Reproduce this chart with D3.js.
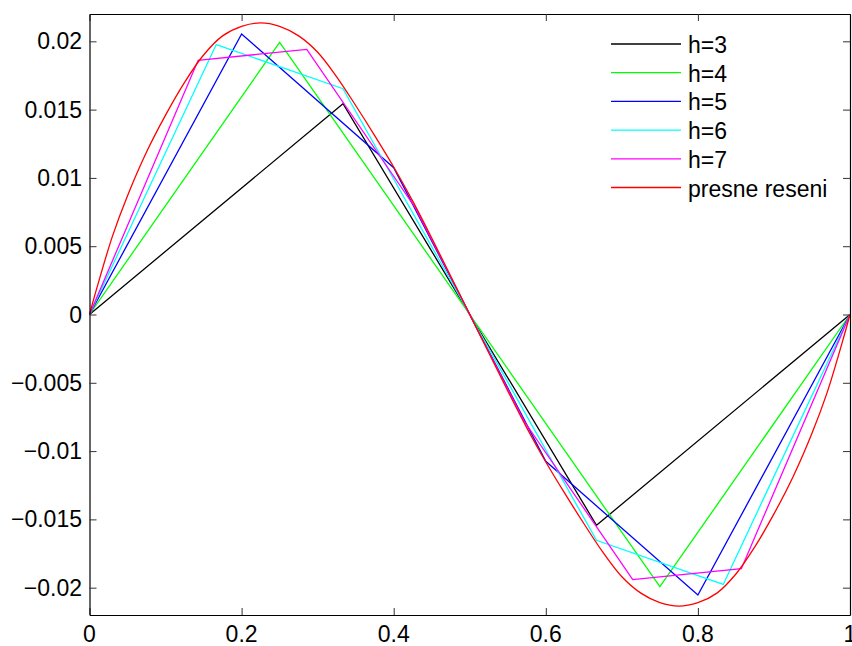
<!DOCTYPE html>
<html>
<head>
<meta charset="utf-8">
<script src="https://cdnjs.cloudflare.com/ajax/libs/d3/7.8.5/d3.min.js"></script>
<style>
    body { margin: 0; background: #fff; }
    text { font-family: "Liberation Sans", Arial, Helvetica, sans-serif; fill: #000; }
</style>
</head>
<body>
<div id="chart"></div>
<script>

//Approximate solutions for the different numbers of intervals.
var h3x = [0, 1/3, 2/3, 1],
    h3y = [0, 0.01543, -0.01543, 0];

var h4x = [0, 0.25, 0.5, 0.75, 1],
    h4y = [0, 0.01993, 0, -0.01993, 0];

var h5x = [0, 0.2, 0.4, 0.6, 0.8, 1],
    h5y = [0, 0.02054, 0.01075, -0.01075, -0.02054, 0];

var h6x = [0, 1/6, 1/3, 0.5, 2/3, 5/6, 1],
    h6y = [0, 0.01976, 0.01653, 0, -0.01653, -0.01976, 0];

var h7x = [0, 1/7, 2/7, 3/7, 4/7, 5/7, 6/7, 1],
    h7y = [0, 0.01861, 0.01941, 0.0078, -0.0078, -0.01941, -0.01861, 0];

//Exact solution.
var exactX = [0, 0.01, 0.03, 0.05, 0.075, 0.1, 0.125, 0.15, 0.175, 0.2, 0.225, 0.25, 0.275, 0.3,
    0.325, 0.35, 0.375, 0.4, 0.425, 0.45, 0.475, 0.5,
    0.525, 0.55, 0.575, 0.6, 0.625, 0.65, 0.675, 0.7, 0.725, 0.75, 0.775, 0.8, 0.825,
    0.85, 0.875, 0.9, 0.925, 0.95, 0.97, 0.99, 1];
var exactY = [0, 0.0020, 0.0057, 0.0087, 0.0119, 0.0146, 0.0170, 0.0190, 0.0204, 0.0211, 0.02135, 0.0211, 0.0204, 0.0192,
    0.0174, 0.0153, 0.0131, 0.0108, 0.0083, 0.0056, 0.0028, 0,
    -0.0028, -0.0056, -0.0083, -0.0108, -0.0131, -0.0153, -0.0174, -0.0192, -0.0204, -0.0211, -0.02135, -0.0211, -0.0204,
    -0.0190, -0.0170, -0.0146, -0.0119, -0.0087, -0.0057, -0.0020, 0];

var legendLabels = ["h=3", "h=4", "h=5", "h=6", "h=7", "presne reseni"];
var colors = ["#000000", "#00ff00", "#0000ff", "#00ffff", "#ff00ff", "#ff0000"];

var xTicks = [0, 0.2, 0.4, 0.6, 0.8, 1];
var yTicks = [-0.02, -0.015, -0.01, -0.005, 0, 0.005, 0.01, 0.015, 0.02];

var seriesX = [h3x, h4x, h5x, h6x, h7x];
var seriesY = [h3y, h4y, h5y, h6y, h7y];

//Size of the picture and of the plot box.
var width = 852, height = 646;
var boxLeft = 89.5, boxRight = 850, boxTop = 14, boxBottom = 615;
var fontSize = 23;

var svg = d3.select("#chart").append("svg")
    .attr("width", width)
    .attr("height", height);

var x = d3.scaleLinear().domain([0, 1]).range([boxLeft, boxRight]);
var y = d3.scaleLinear().domain([-0.022, 0.022]).range([boxBottom, boxTop]);

//Formats tick labels the way matlab does, with a real minus sign.
function fmt(v) {
    var s = String(+v.toFixed(4));
    return s.replace("-", "\u2212");
}

function pairs(xs, ys) {
    return xs.map(function(v, j) { return [v, ys[j]]; });
}

//Lines of the approximations, straight pieces between nodes.
var line = d3.line()
    .x(function(d) { return x(d[0]); })
    .y(function(d) { return y(d[1]); });

//Exact solution is smooth.
var smooth = d3.line()
    .x(function(d) { return x(d[0]); })
    .y(function(d) { return y(d[1]); })
    .curve(d3.curveCatmullRom);

var lines = svg.append("g").attr("fill", "none").attr("stroke-width", 1.3);
seriesX.forEach(function(xs, i) {
    lines.append("path")
        .attr("d", line(pairs(xs, seriesY[i])))
        .attr("stroke", colors[i]);
});
lines.append("path")
    .attr("d", smooth(pairs(exactX, exactY)))
    .attr("stroke", colors[5]);

//Axes with ticks pointing inside, on all four sides.
var tickLen = 7;
var axes = svg.append("g");

axes.append("g").attr("transform", "translate(0," + boxBottom + ")")
    .call(d3.axisBottom(x).tickValues(xTicks).tickSize(-tickLen).tickSizeOuter(0).tickFormat(""));
axes.append("g").attr("transform", "translate(0," + boxTop + ")")
    .call(d3.axisTop(x).tickValues(xTicks).tickSize(-tickLen).tickSizeOuter(0).tickFormat(""));
axes.append("g").attr("transform", "translate(" + boxLeft + ",0)")
    .call(d3.axisLeft(y).tickValues(yTicks).tickSize(-tickLen).tickSizeOuter(0).tickFormat(""));
axes.append("g").attr("transform", "translate(" + boxRight + ",0)")
    .call(d3.axisRight(y).tickValues(yTicks).tickSize(-tickLen).tickSizeOuter(0).tickFormat(""));

axes.selectAll("path.domain").attr("stroke", "#000").attr("stroke-width", 1.2);
axes.selectAll(".tick line").attr("stroke", "#333");

//Tick labels.
svg.append("g").selectAll("text").data(xTicks).enter().append("text")
    .attr("x", function(d) { return x(d); })
    .attr("y", 642)
    .attr("text-anchor", "middle")
    .attr("font-size", fontSize)
    .text(fmt);

svg.append("g").selectAll("text").data(yTicks).enter().append("text")
    .attr("x", 82)
    .attr("y", function(d) { return y(d) + 8; })
    .attr("text-anchor", "end")
    .attr("font-size", fontSize)
    .text(fmt);

//Legend without a box.
var legend = svg.append("g").selectAll("g").data(legendLabels).enter().append("g")
    .attr("transform", function(d, i) { return "translate(611," + (44 + i * 28.7) + ")"; });

legend.append("line")
    .attr("x1", 0).attr("x2", 70)
    .attr("stroke", function(d, i) { return colors[i]; })
    .attr("stroke-width", 1.3);

legend.append("text")
    .attr("x", 77)
    .attr("y", 9)
    .attr("font-size", fontSize)
    .text(function(d) { return d; });

</script>
</body>
</html>
